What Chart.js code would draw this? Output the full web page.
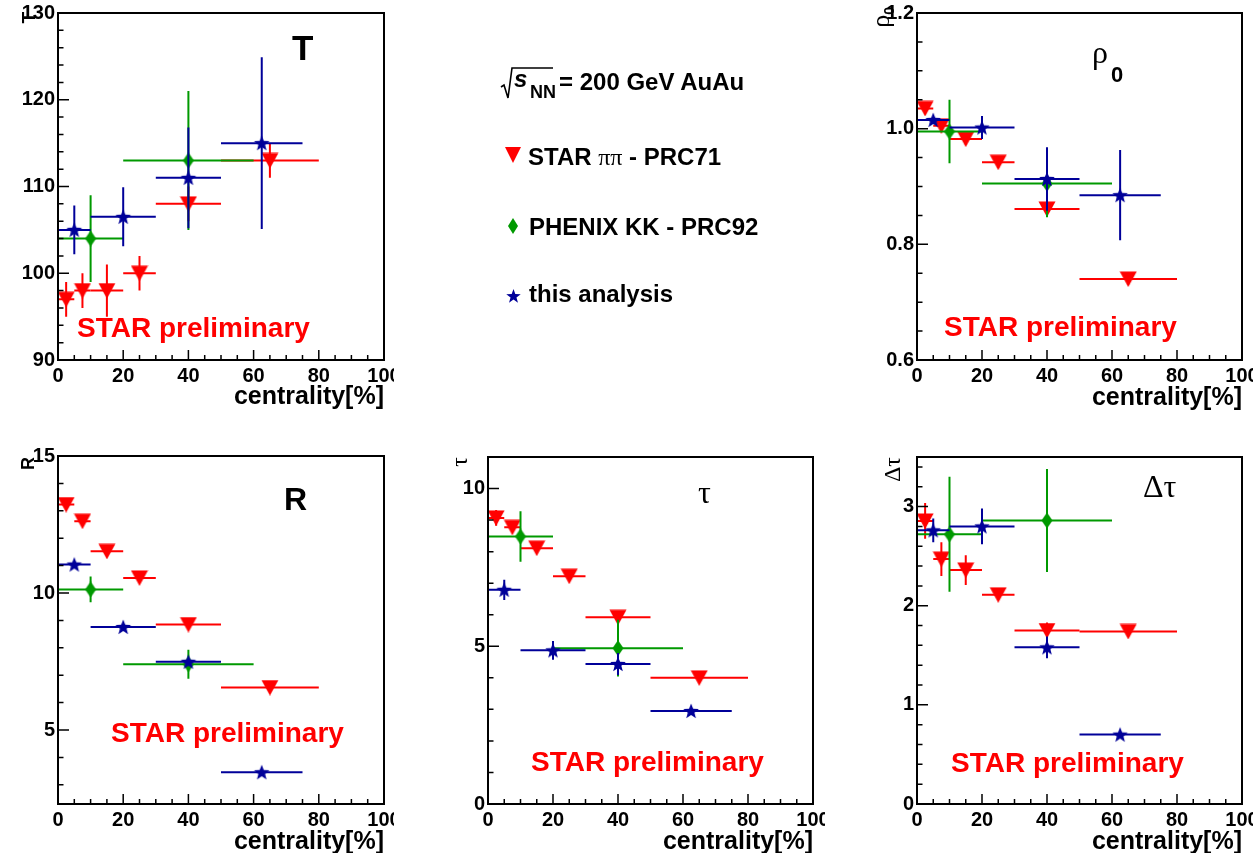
<!DOCTYPE html>
<html><head><meta charset="utf-8">
<script src="https://cdn.jsdelivr.net/npm/chart.js@4.4.1/dist/chart.umd.min.js"></script>
<style>
html,body{margin:0;padding:0;background:#fff;width:1253px;height:853px;overflow:hidden;position:relative;}
canvas.p{position:absolute;}
.t{position:absolute;white-space:nowrap;line-height:1;font-family:'Liberation Sans',Arial,sans-serif;font-weight:bold;color:#000;}
.serif{font-family:'Liberation Serif','Times New Roman',serif;font-weight:normal;}
.prelim{color:#ff0000;font-size:28px;}
svg.m{position:absolute;overflow:visible;}
</style></head><body>
<canvas class="p" id="c1" width="394" height="430" style="left:0;top:0"></canvas>
<canvas class="p" id="c2" width="393" height="430" style="left:860px;top:0"></canvas>
<canvas class="p" id="c3" width="394" height="430" style="left:0;top:440px"></canvas>
<canvas class="p" id="c4" width="405" height="430" style="left:420px;top:440px"></canvas>
<canvas class="p" id="c5" width="393" height="430" style="left:860px;top:440px"></canvas>

<!-- panel labels -->
<div class="t" style="font-size:35px;left:292px;top:30px">T</div>
<div class="t serif" style="font-size:32px;left:1092px;top:36px">ρ</div>
<div class="t" style="font-size:22px;left:1111px;top:64px">0</div>
<div class="t" style="font-size:32px;left:284px;top:483px">R</div>
<div class="t serif" style="font-size:32px;left:698px;top:476px">τ</div>
<div class="t serif" style="font-size:32px;left:1143px;top:470px">Δτ</div>

<div class="t prelim" style="left:77px;top:314px">STAR preliminary</div>
<div class="t prelim" style="left:944px;top:313px">STAR preliminary</div>
<div class="t prelim" style="left:111px;top:719px">STAR preliminary</div>
<div class="t prelim" style="left:531px;top:748px">STAR preliminary</div>
<div class="t prelim" style="left:951px;top:749px">STAR preliminary</div>

<!-- legend -->
<svg class="m" style="left:0;top:0" width="1" height="1"><polyline points="501,87 504,85 508,98 512,68 553,68" fill="none" stroke="#000" stroke-width="1.6"/></svg>
<div class="t" style="font-size:24px;left:514px;top:67px;font-style:italic">s</div>
<div class="t" style="font-size:18px;left:530px;top:83px">NN</div>
<div class="t" style="font-size:24px;left:559px;top:70px">= 200 GeV AuAu</div>

<svg class="m" style="left:0;top:0" width="1" height="1"><polygon points="505,147 521,147 513,163" fill="#ff0000"/></svg>
<div class="t" style="font-size:24px;left:528px;top:145px">STAR <span class="serif">ππ</span> - PRC71</div>
<svg class="m" style="left:0;top:0" width="1" height="1"><polygon points="513,218 518,226 513,234 508,226" fill="#009900"/></svg>
<div class="t" style="font-size:24px;left:529px;top:215px">PHENIX KK - PRC92</div>
<svg class="m" style="left:0;top:0" width="1" height="1"><polygon id="legstar" fill="#000099"/></svg>
<div class="t" style="font-size:24px;left:529px;top:282px">this analysis</div>

<script>
// ---------------- data ----------------
const xTickLabels = [0, 20, 40, 60, 80, 100];

// centrality bins
const starX   = [2.5, 7.5, 15, 25, 40, 65];
const starXLo = [0, 5, 10, 20, 30, 50];
const starXHi = [5, 10, 20, 30, 50, 80];
const phenixX   = [10, 40];
const phenixXLo = [0, 20];
const phenixXHi = [20, 60];
const thisX   = [5, 20, 40, 62.5];
const thisXLo = [0, 10, 30, 50];
const thisXHi = [10, 30, 50, 75];

// T
const T_star = [97, 98, 98, 100, 108, 113];
const T_starErr = [2, 2, 3, 2, 2, 2];
const T_phenix = [104, 113];
const T_phenixErr = [5, 8];
const T_this = [105, 106.5, 111, 115];
const T_thisErr = [2.8, 3.4, 5.8, 9.9];
const T_ticks = [90, 100, 110, 120, 130];

// rho0
const rho_star = [1.035, 1.005, 0.982, 0.942, 0.861, 0.74];
const rho_starErr = [0.01, 0.01, 0.01, 0.01, 0.01, 0.01];
const rho_phenix = [0.995, 0.905];
const rho_phenixErr = [0.055, 0.058];
const rho_this = [1.015, 1.002, 0.913, 0.885];
const rho_thisErr = [0.005, 0.02, 0.055, 0.078];
const rho_ticks = [0.6, 0.8, 1.0, 1.2];

// R
const R_star = [13.23, 12.62, 11.52, 10.55, 8.85, 6.55];
const R_starErr = [0.05, 0.05, 0.05, 0.05, 0.05, 0.05];
const R_phenix = [10.13, 7.4];
const R_phenixErr = [0.47, 0.53];
const R_this = [11.04, 8.76, 7.49, 3.46];
const R_thisErr = [0.1, 0.1, 0.1, 0.05];
const R_ticks = [5, 10, 15];

// tau
const tau_star = [9.07, 8.77, 8.11, 7.22, 5.92, 4.0];
const tau_starErr = [0.25, 0.1, 0.1, 0.1, 0.1, 0.1];
const tau_phenix = [8.48, 4.94];
const tau_phenixErr = [0.8, 0.9];
const tau_this = [6.79, 4.87, 4.44, 2.95];
const tau_thisErr = [0.32, 0.3, 0.35, 0.05];
const tau_ticks = [0, 5, 10];

// delta tau
const dtau_star = [2.855, 2.47, 2.36, 2.11, 1.75, 1.74];
const dtau_starErr = [0.18, 0.17, 0.15, 0.05, 0.08, 0.05];
const dtau_phenix = [2.72, 2.86];
const dtau_phenixErr = [0.58, 0.52];
const dtau_this = [2.76, 2.80, 1.58, 0.70];
const dtau_thisErr = [0.12, 0.18, 0.11, 0.02];
const dtau_ticks = [0, 1, 2, 3];

// ---------------- styling ----------------
const RED = '#ff0000', GREEN = '#009900', BLUE = '#000099';
const SANS = "'Liberation Sans', Arial, sans-serif";
const SERIF = "'Liberation Serif', 'Times New Roman', serif";
Chart.defaults.font.family = SANS;
Chart.defaults.color = '#000';

function mk(w, h, draw) { const c = document.createElement('canvas'); c.width = w; c.height = h; draw(c.getContext('2d'), w, h); return c; }
function starPath(g, cx, cy, R, r) {
  g.beginPath();
  for (let i = 0; i < 10; i++) {
    const rad = (i % 2 ? r : R), a = -Math.PI / 2 + i * Math.PI / 5;
    const px = cx + rad * Math.cos(a), py = cy + rad * Math.sin(a);
    i ? g.lineTo(px, py) : g.moveTo(px, py);
  }
  g.closePath();
}
const triImg = mk(18, 16, (g, w, h) => { g.fillStyle = RED; g.beginPath(); g.moveTo(0.5, 0.5); g.lineTo(w - 0.5, 0.5); g.lineTo(w / 2, h); g.closePath(); g.fill(); });
const diaImg = mk(12, 16, (g, w, h) => { g.fillStyle = GREEN; g.beginPath(); g.moveTo(w / 2, 0); g.lineTo(w - 0.5, h / 2); g.lineTo(w / 2, h); g.lineTo(0.5, h / 2); g.closePath(); g.fill(); });
const starImg = mk(18, 18, (g, w, h) => { g.fillStyle = BLUE; starPath(g, 9, 9.6, 8.2, 3.5); g.fill(); });

// legend star polygon
(function () {
  const pts = [];
  for (let i = 0; i < 10; i++) { const rad = (i % 2 ? 3.1 : 7.6), a = -Math.PI / 2 + i * Math.PI / 5; pts.push((513.5 + rad * Math.cos(a)).toFixed(2) + ',' + (296.5 + rad * Math.sin(a)).toFixed(2)); }
  document.getElementById('legstar').setAttribute('points', pts.join(' '));
})();

const pts = (xs, ys) => xs.map((x, i) => ({ x, y: ys[i] }));

const errPlugin = {
  id: 'errbars',
  beforeDatasetDraw(chart, args) {
    const ds = chart.data.datasets[args.index];
    const { ctx, chartArea: a, scales: { x, y } } = chart;
    ctx.save();
    ctx.beginPath(); ctx.rect(a.left, a.top, a.width, a.height); ctx.clip();
    ctx.strokeStyle = ds.errColor; ctx.lineWidth = 2; ctx.lineCap = 'butt';
    ds.data.forEach((p, i) => {
      const px = x.getPixelForValue(p.x), py = y.getPixelForValue(p.y);
      ctx.beginPath();
      ctx.moveTo(x.getPixelForValue(ds.xLo[i]), py); ctx.lineTo(x.getPixelForValue(ds.xHi[i]), py);
      ctx.moveTo(px, y.getPixelForValue(p.y - ds.yErr[i])); ctx.lineTo(px, y.getPixelForValue(p.y + ds.yErr[i]));
      ctx.stroke();
    });
    ctx.restore();
  }
};

const framePlugin = {
  id: 'frame',
  afterDatasetsDraw(chart, args, o) {
    const { ctx, chartArea: a, scales: { x, y } } = chart;
    ctx.save();
    ctx.strokeStyle = '#000';
    ctx.lineWidth = 1.5;
    ctx.beginPath();
    for (let v = 0; v <= 100; v += 5) {
      const px = x.getPixelForValue(v), len = v % 20 === 0 ? 10 : 5;
      ctx.moveTo(px, a.bottom); ctx.lineTo(px, a.bottom - len);
    }
    const eps = 1e-9;
    for (let k = Math.ceil((y.min - eps) / o.minor); k * o.minor <= y.max + eps; k++) {
      const v = k * o.minor, py = y.getPixelForValue(v);
      const major = Math.abs(v / o.major - Math.round(v / o.major)) < 1e-6;
      ctx.moveTo(a.left, py); ctx.lineTo(a.left + (major ? 11 : 5.5), py);
    }
    ctx.stroke();
    ctx.lineWidth = 2;
    ctx.strokeRect(a.left, a.top, a.width, a.height);
    ctx.restore();
  },
  afterDraw(chart, args, o) {
    const ctx = chart.ctx;
    ctx.save();
    ctx.fillStyle = '#000';
    ctx.textBaseline = 'alphabetic'; ctx.textAlign = 'left';
    let total = 0;
    o.title.forEach(p => { ctx.font = p.font; p.w = ctx.measureText(p.text).width; total += p.w; });
    ctx.translate(o.tx, o.ty);
    ctx.rotate(-Math.PI / 2);
    let u = -total;
    o.title.forEach(p => { ctx.font = p.font; ctx.fillText(p.text, u, p.dy || 0); u += p.w; });
    ctx.restore();
  }
};

function noPad(sc) { sc.paddingLeft = 0; sc.paddingRight = 0; sc.paddingTop = 0; sc.paddingBottom = 0; }

function panel(id, s) {
  return new Chart(document.getElementById(id), {
    type: 'scatter',
    data: {
      datasets: [
        { label: 'STAR ππ - PRC71', data: pts(starX, s.star), xLo: starXLo, xHi: starXHi, yErr: s.starErr, errColor: RED, pointStyle: triImg, pointRadius: 7, order: 2 },
        { label: 'PHENIX KK - PRC92', data: pts(phenixX, s.phenix), xLo: phenixXLo, xHi: phenixXHi, yErr: s.phenixErr, errColor: GREEN, pointStyle: diaImg, pointRadius: 7, order: 1 },
        { label: 'this analysis', data: pts(thisX, s.thisA), xLo: thisXLo, xHi: thisXHi, yErr: s.thisErr, errColor: BLUE, pointStyle: starImg, pointRadius: 7, order: 0 }
      ]
    },
    options: {
      responsive: false, animation: false, devicePixelRatio: 1,
      layout: { padding: { top: s.top, right: s.right, left: 0, bottom: 0 }, autoPadding: false },
      plugins: {
        legend: { display: false }, tooltip: { enabled: false },
        frame: { minor: s.minor, major: s.major, title: s.title, tx: s.tx, ty: s.ty }
      },
      scales: {
        x: {
          type: 'linear', position: 'bottom', min: 0, max: 100,
          afterFit: sc => { sc.height = s.xh; noPad(sc); },
          afterBuildTicks: sc => { sc.ticks = xTickLabels.map(v => ({ value: v })); },
          grid: { display: false, drawTicks: false }, border: { display: false },
          ticks: { font: { size: 20, weight: 'bold' }, color: '#000', padding: 4, maxRotation: 0, autoSkip: false },
          title: { display: true, text: 'centrality[%]', align: 'end', color: '#000', font: { size: 25, weight: 'bold' }, padding: { top: 0, bottom: s.tpb } }
        },
        y: {
          type: 'linear', position: 'left', min: s.ymin, max: s.ymax,
          afterFit: sc => { sc.width = s.yw; noPad(sc); },
          afterBuildTicks: sc => { sc.ticks = s.ticks.map(v => ({ value: v })); },
          grid: { display: false, drawTicks: false }, border: { display: false },
          ticks: { font: { size: 20, weight: 'bold' }, color: '#000', padding: 3, autoSkip: false, callback: s.fmt || (v => String(v)) }
        }
      }
    },
    plugins: [errPlugin, framePlugin]
  });
}

panel('c1', { star: T_star, starErr: T_starErr, phenix: T_phenix, phenixErr: T_phenixErr, thisA: T_this, thisErr: T_thisErr,
  ticks: T_ticks, ymin: 90, ymax: 130, minor: 2, major: 10,
  top: 13, right: 10, yw: 58, xh: 70, tpb: 18,
  title: [{ text: 'T', font: 'bold 19px ' + SANS }], tx: 35, ty: 12 });

panel('c2', { star: rho_star, starErr: rho_starErr, phenix: rho_phenix, phenixErr: rho_phenixErr, thisA: rho_this, thisErr: rho_thisErr,
  ticks: rho_ticks, ymin: 0.6, ymax: 1.2, minor: 0.05, major: 0.2, fmt: v => Number(v).toFixed(1),
  top: 13, right: 11, yw: 57, xh: 70, tpb: 17,
  title: [{ text: 'ρ', font: '26px ' + SERIF }, { text: '0', font: 'bold 14px ' + SANS, dy: 5 }], tx: 29, ty: 7 });

panel('c3', { star: R_star, starErr: R_starErr, phenix: R_phenix, phenixErr: R_phenixErr, thisA: R_this, thisErr: R_thisErr,
  ticks: R_ticks, ymin: 2.3, ymax: 15, minor: 1, major: 5,
  top: 16, right: 10, yw: 58, xh: 66, tpb: 13,
  title: [{ text: 'R', font: 'bold 18px ' + SANS }], tx: 34, ty: 17 });

panel('c4', { star: tau_star, starErr: tau_starErr, phenix: tau_phenix, phenixErr: tau_phenixErr, thisA: tau_this, thisErr: tau_thisErr,
  ticks: tau_ticks, ymin: 0, ymax: 11, minor: 1, major: 5,
  top: 17, right: 12, yw: 68, xh: 66, tpb: 13,
  title: [{ text: 'τ', font: '24px ' + SERIF }], tx: 47, ty: 17 });

panel('c5', { star: dtau_star, starErr: dtau_starErr, phenix: dtau_phenix, phenixErr: dtau_phenixErr, thisA: dtau_this, thisErr: dtau_thisErr,
  ticks: dtau_ticks, ymin: 0, ymax: 3.5, minor: 0.2, major: 1,
  top: 17, right: 11, yw: 57, xh: 66, tpb: 13,
  title: [{ text: 'Δτ', font: '24px ' + SERIF }], tx: 40, ty: 17 });
</script>
</body></html>
